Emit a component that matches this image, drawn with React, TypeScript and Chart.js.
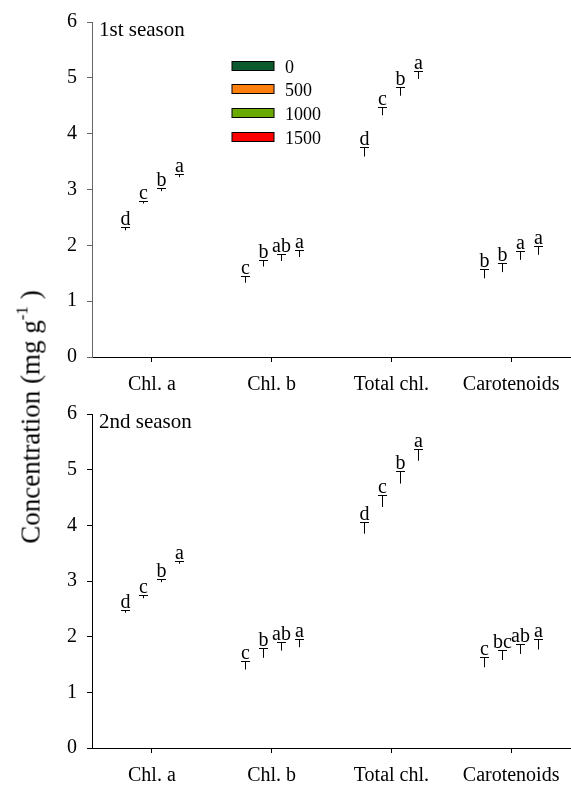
import React, { useEffect, useRef } from "react";
import { Chart, registerables } from "chart.js";

Chart.register(...registerables);

const FONT = "'Times New Roman', 'Liberation Serif', serif";

const categories = ["Chl. a", "Chl. b", "Total chl.", "Carotenoids"];
const seriesNames = ["0", "500", "1000", "1500"];
const seriesColors = ["#0b5a2d", "#ff7f0e", "#6aaa00", "#ff0000"];
const yTicks = [0, 1, 2, 3, 4, 5, 6];

// 1st season: mean per treatment across categories
const s1Mean0 = [2.27, 1.33, 3.59, 1.41];
const s1Mean500 = [2.75, 1.62, 4.33, 1.52];
const s1Mean1000 = [2.97, 1.72, 4.68, 1.74];
const s1Mean1500 = [3.22, 1.79, 4.98, 1.83];
const s1Err0 = [0.06, 0.12, 0.17, 0.16];
const s1Err500 = [0.05, 0.11, 0.15, 0.16];
const s1Err1000 = [0.05, 0.12, 0.15, 0.16];
const s1Err1500 = [0.05, 0.13, 0.15, 0.16];
const s1Let0 = ["d", "c", "d", "b"];
const s1Let500 = ["c", "b", "c", "b"];
const s1Let1000 = ["b", "ab", "b", "a"];
const s1Let1500 = ["a", "a", "a", "a"];

// 2nd season
const s2Mean0 = [2.43, 1.41, 3.85, 1.45];
const s2Mean500 = [2.69, 1.62, 4.33, 1.58];
const s2Mean1000 = [2.98, 1.75, 4.75, 1.69];
const s2Mean1500 = [3.31, 1.81, 5.16, 1.77];
const s2Err0 = [0.05, 0.15, 0.21, 0.19];
const s2Err500 = [0.05, 0.17, 0.21, 0.18];
const s2Err1000 = [0.05, 0.16, 0.22, 0.18];
const s2Err1500 = [0.05, 0.15, 0.22, 0.19];
const s2Let0 = ["d", "c", "d", "c"];
const s2Let500 = ["c", "b", "c", "bc"];
const s2Let1000 = ["b", "ab", "b", "ab"];
const s2Let1500 = ["a", "a", "a", "a"];

const errorPlugin = {
  id: "errLetters",
  afterDatasetsDraw(chart: any) {
    const { ctx } = chart;
    const ys = chart.scales.y;
    ctx.save();
    chart.data.datasets.forEach((ds: any, di: number) => {
      const meta = chart.getDatasetMeta(di);
      meta.data.forEach((bar: any, i: number) => {
        const v = ds.data[i];
        const e = ds.errs[i];
        const x = Math.round(bar.x) + 0.5;
        const yb = ys.getPixelForValue(v);
        const yt = Math.round(ys.getPixelForValue(v + e)) + 0.5;
        ctx.strokeStyle = "#000";
        ctx.lineWidth = 1;
        ctx.beginPath();
        ctx.moveTo(x, yb);
        ctx.lineTo(x, yt);
        ctx.moveTo(x - 4.5, yt);
        ctx.lineTo(x + 4.5, yt);
        ctx.stroke();
        ctx.fillStyle = "#000";
        ctx.font = `20px ${FONT}`;
        ctx.textAlign = "center";
        ctx.textBaseline = "alphabetic";
        ctx.fillText(ds.letters[i], x, yt - 3);
      });
    });
    ctx.restore();
  },
};

const panelPlugin = {
  id: "panelDeco",
  afterDraw(chart: any, _args: any, opts: any) {
    const { ctx, chartArea } = chart;
    ctx.save();
    ctx.fillStyle = "#000";
    ctx.font = `21px ${FONT}`;
    ctx.textAlign = "left";
    ctx.textBaseline = "alphabetic";
    ctx.fillText(opts.title, chartArea.left + 7, chartArea.top + 14);
    if (opts.legend) {
      const bx = chartArea.left + 140;
      const by = chartArea.top + 38.5;
      seriesNames.forEach((name, i) => {
        const top = Math.round(by + i * 23.8) + 0.5;
        ctx.fillStyle = seriesColors[i];
        ctx.fillRect(bx, top, 42, 9);
        ctx.strokeStyle = "#000";
        ctx.lineWidth = 1;
        ctx.strokeRect(bx, top, 42, 9);
        ctx.fillStyle = "#000";
        ctx.font = `18px ${FONT}`;
        ctx.fillText(name, bx + 53, top + 11);
      });
    }
    ctx.restore();
  },
};

type PanelProps = {
  title: string;
  means: number[][];
  errs: number[][];
  letters: string[][];
  legend: boolean;
  width: number;
  height: number;
  plotTop: number;
  plotBottom: number;
  yColor: string;
};

function Panel(p: PanelProps) {
  const ref = useRef<HTMLCanvasElement>(null);
  useEffect(() => {
    if (!ref.current) return;
    const chart = new Chart(ref.current, {
      type: "bar",
      data: {
        labels: categories,
        datasets: p.means.map((m, i) => ({
          label: seriesNames[i],
          data: m,
          errs: p.errs[i],
          letters: p.letters[i],
          backgroundColor: "rgba(0,0,0,0)",
          borderWidth: 0,
          categoryPercentage: 0.6,
          barPercentage: 1,
        })) as any,
      },
      options: {
        responsive: false,
        animation: false,
        devicePixelRatio: 1,
        layout: { padding: { top: p.plotTop, left: 0, right: 0, bottom: 0 } },
        plugins: {
          legend: { display: false },
          tooltip: { enabled: false },
          panelDeco: { title: p.title, legend: p.legend },
        } as any,
        scales: {
          x: {
            grid: {
              display: true,
              drawOnChartArea: false,
              drawTicks: true,
              tickLength: 5,
              color: "#000",
              offset: false,
            },
            border: { display: true, color: "#000", width: 1 },
            ticks: {
              color: "#000",
              font: { family: FONT, size: 20 },
              padding: 11,
              maxRotation: 0,
              autoSkip: false,
            },
            afterFit: (s: any) => {
              s.height = p.height - p.plotBottom;
            },
          },
          y: {
            min: 0,
            max: 6,
            afterBuildTicks: (s: any) => {
              s.ticks = yTicks.map((v) => ({ value: v }));
            },
            ticks: {
              color: "#000",
              font: { family: FONT, size: 20 },
              padding: 10,
            },
            grid: {
              display: true,
              drawOnChartArea: false,
              drawTicks: true,
              tickLength: 5,
              color: p.yColor,
            },
            border: { display: true, color: p.yColor, width: 1 },
            afterFit: (s: any) => {
              s.width = 92;
            },
          },
        },
      },
      plugins: [errorPlugin, panelPlugin],
    } as any);
    return () => chart.destroy();
  }, []);
  return (
    <canvas
      ref={ref}
      width={p.width}
      height={p.height}
      style={{ display: "block", width: p.width, height: p.height }}
    />
  );
}

export default function App() {
  return (
    <div
      style={{
        position: "absolute",
        left: 0,
        top: 0,
        width: 571,
        height: 787,
        background: "#fff",
        overflow: "hidden",
      }}
    >
      <div style={{ position: "absolute", left: 0, top: 0 }}>
        <Panel
          title="1st season"
          means={[s1Mean0, s1Mean500, s1Mean1000, s1Mean1500]}
          errs={[s1Err0, s1Err500, s1Err1000, s1Err1500]}
          letters={[s1Let0, s1Let500, s1Let1000, s1Let1500]}
          legend={true}
          width={571}
          height={392}
          plotTop={22}
          plotBottom={357}
          yColor="#666"
        />
      </div>
      <div style={{ position: "absolute", left: 0, top: 392 }}>
        <Panel
          title="2nd season"
          means={[s2Mean0, s2Mean500, s2Mean1000, s2Mean1500]}
          errs={[s2Err0, s2Err500, s2Err1000, s2Err1500]}
          letters={[s2Let0, s2Let500, s2Let1000, s2Let1500]}
          legend={false}
          width={571}
          height={395}
          plotTop={22}
          plotBottom={356}
          yColor="#000"
        />
      </div>
      <div
        style={{
          position: "absolute",
          left: 31,
          top: 417,
          transform: "translate(-50%, -50%) rotate(-90deg)",
          whiteSpace: "nowrap",
          fontFamily: FONT,
          fontSize: 27,
          color: "#000",
          lineHeight: 1,
        }}
      >
        Concentration (mg g
        <sup style={{ fontSize: 17, verticalAlign: "0.7em", lineHeight: 0 }}>-1</sup>
        {" )"}
      </div>
    </div>
  );
}
